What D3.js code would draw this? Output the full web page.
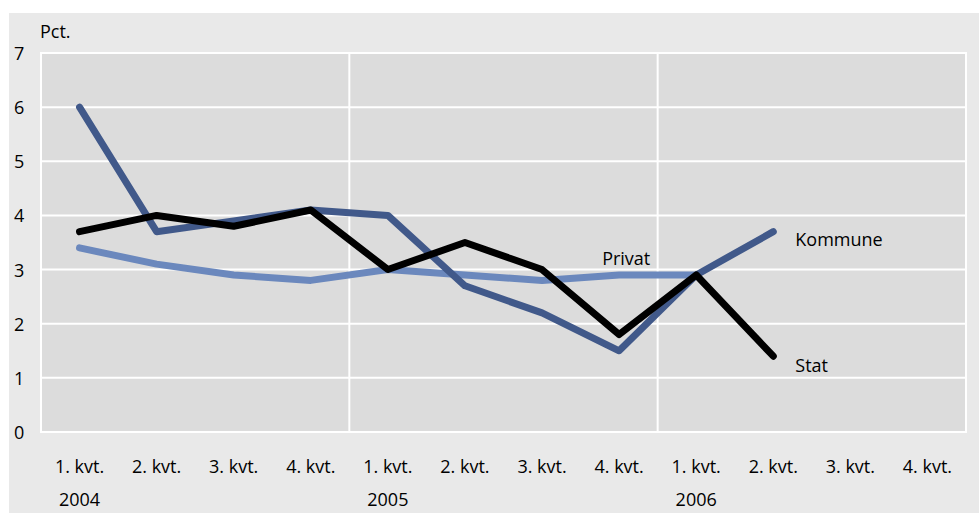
<!DOCTYPE html>
<html>
<head>
<meta charset="utf-8">
<script src="https://cdn.jsdelivr.net/npm/d3@7"></script>
<style>
  body { margin: 0; background: #fff; }
  text { font-family: "Open Sans", sans-serif; fill: #000; }
</style>
</head>
<body>
<script>
var quarters = ["1. kvt.","2. kvt.","3. kvt.","4. kvt.","1. kvt.","2. kvt.","3. kvt.","4. kvt.","1. kvt.","2. kvt.","3. kvt.","4. kvt."];
var years = ["2004","2005","2006"];
var kommune = [6, 3.7, 3.9, 4.1, 4.0, 2.7, 2.2, 1.5, 2.9, 3.7];
var privat = [3.4, 3.1, 2.9, 2.8, 3.0, 2.9, 2.8, 2.9, 2.9];
var stat = [3.7, 4.0, 3.8, 4.1, 3.0, 3.5, 3.0, 1.8, 2.9, 1.4];
var yTicks = [0,1,2,3,4,5,6,7];

var w = 979, h = 513;
var pLeft = 41, pRight = 966, pTop = 53, pBottom = 432;

var svg = d3.select("body").append("svg")
  .attr("width", w).attr("height", h);

svg.append("rect").attr("x", 9).attr("y", 13)
  .attr("width", w - 9).attr("height", h - 13)
  .attr("fill", "#e9e9e9");

var idx = d3.range(quarters.length);
var xScale = d3.scaleBand().domain(idx).range([pLeft, pRight]);
var yScale = d3.scaleLinear().domain([0, 7]).range([pBottom, pTop]);

svg.append("rect").attr("x", pLeft).attr("y", pTop)
  .attr("width", pRight - pLeft).attr("height", pBottom - pTop)
  .attr("fill", "#dcdcdc").attr("stroke", "#fff").attr("stroke-width", 2);

// grid
svg.selectAll(".hgrid").data(yTicks).enter().append("line")
  .attr("x1", pLeft).attr("x2", pRight)
  .attr("y1", d => yScale(d)).attr("y2", d => yScale(d))
  .attr("stroke", "#fff").attr("stroke-width", 2);
svg.selectAll(".vgrid").data([4, 8]).enter().append("line")
  .attr("x1", d => xScale(d)).attr("x2", d => xScale(d))
  .attr("y1", pTop).attr("y2", pBottom)
  .attr("stroke", "#fff").attr("stroke-width", 2);

// y labels
svg.selectAll(".ylab").data(yTicks).enter().append("text")
  .attr("x", 14).attr("y", d => yScale(d) + 7)
  .attr("font-size", 18)
  .text(d => d);
svg.append("text").attr("x", 40).attr("y", 38).attr("font-size", 18).text("Pct.");

// x labels
svg.selectAll(".xlab").data(quarters).enter().append("text")
  .attr("x", (d, i) => xScale(i) + xScale.bandwidth() / 2)
  .attr("y", 473).attr("text-anchor", "middle").attr("font-size", 18)
  .text(d => d);
svg.selectAll(".year").data(years).enter().append("text")
  .attr("x", (d, i) => xScale(i * 4) + xScale.bandwidth() / 2)
  .attr("y", 506).attr("text-anchor", "middle").attr("font-size", 18)
  .text(d => d);

var line = d3.line()
  .x((d, i) => xScale(i) + xScale.bandwidth() / 2)
  .y(d => yScale(d));

function drawSeries(data, color) {
  svg.append("path").datum(data)
    .attr("d", line)
    .attr("fill", "none").attr("stroke", color)
    .attr("stroke-width", 7)
    .attr("stroke-linejoin", "round").attr("stroke-linecap", "round");
}
drawSeries(privat, "#6b88bd");
drawSeries(kommune, "#41598a");
drawSeries(stat, "#000");

// series labels
function xAt(i) { return xScale(i) + xScale.bandwidth() / 2; }
svg.append("text").attr("x", xAt(9) + 22).attr("y", yScale(3.7) + 14)
  .attr("font-size", 18).text("Kommune");
svg.append("text").attr("x", xAt(7) - 17).attr("y", yScale(2.9) - 10)
  .attr("font-size", 18).text("Privat");
svg.append("text").attr("x", xAt(9) + 22).attr("y", yScale(1.4) + 16)
  .attr("font-size", 18).text("Stat");
</script>
</body>
</html>
